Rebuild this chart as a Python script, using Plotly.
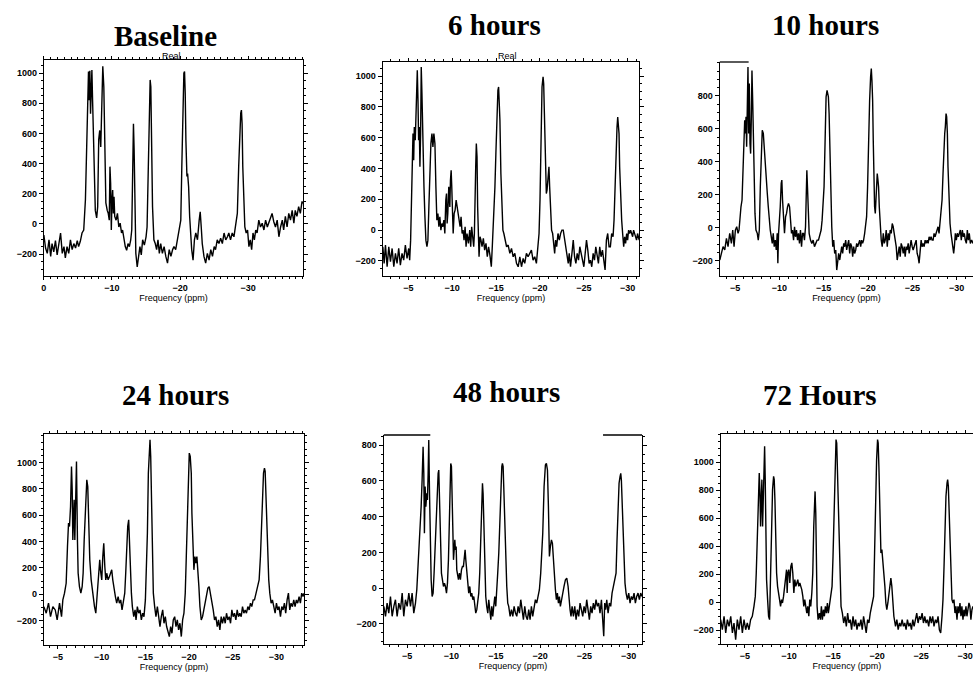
import plotly.graph_objects as go

W, H = 973, 677

titles = ["Baseline", "6 hours", "10 hours", "24 hours", "48 hours", "72 Hours"]
x_title = "Frequency (ppm)"
trace_label = "Real"

# (chemical shift magnitude in ppm, intensity); axis shows -ppm
baseline = [
(0,-73),(0.25,-160),(0.5,-195),(0.75,-105),(1.0,-215),(1.2,-130),(1.45,-185),(1.7,-110),(1.95,-205),(2.2,-140),
(2.45,-60),(2.7,-195),(2.95,-150),(3.15,-225),(3.4,-150),(3.65,-195),(3.9,-105),(4.15,-170),(4.4,-130),(4.65,-160),
(4.9,-110),(5.1,-150),(5.35,-115),(5.6,-60),(5.85,-40),(6.1,160),(6.3,600),(6.45,910),(6.55,1010),(6.65,820),
(6.75,1015),(6.85,730),(6.95,845),(7.05,1020),(7.15,820),(7.25,645),(7.4,250),(7.55,90),(7.75,40),(7.9,115),
(8.05,560),(8.2,620),(8.35,510),(8.5,760),(8.65,1045),(8.8,910),(8.95,535),(9.1,140),(9.3,90),(9.45,70),
(9.6,25),(9.7,380),(9.8,270),(9.9,-40),(10.0,160),(10.1,225),(10.2,70),(10.3,180),(10.4,50),(10.6,25),
(10.8,70),(11.0,-20),(11.2,5),(11.4,-60),(11.55,-40),(11.75,-105),(11.95,-150),(12.15,-175),(12.35,-130),(12.55,-150),
(12.75,-105),(12.9,-40),(13.0,250),(13.15,665),(13.25,490),(13.35,50),(13.5,-195),(13.7,-285),(13.9,-215),(14.1,-150),
(14.3,-205),(14.5,-105),(14.75,-140),(15.0,-85),(15.15,-20),(15.3,270),(15.45,755),(15.6,955),(15.7,910),(15.8,600),
(15.95,115),(16.15,-105),(16.35,-130),(16.55,-170),(16.75,-105),(16.95,-195),(17.15,-130),(17.4,-195),(17.65,-150),(17.9,-215),
(18.15,-260),(18.4,-170),(18.65,-215),(18.9,-170),(19.1,-150),(19.35,-170),(19.6,-105),(19.85,-60),(20.1,25),(20.25,380),
(20.4,755),(20.55,1000),(20.65,1010),(20.75,865),(20.85,555),(21.0,315),(21.1,335),(21.25,245),(21.4,50),(21.55,-105),
(21.7,-170),(21.9,-240),(22.1,-105),(22.3,-60),(22.55,-105),(22.8,25),(22.95,80),(23.1,-20),(23.25,-130),(23.5,-215),
(23.75,-260),(24.0,-195),(24.25,-240),(24.5,-170),(24.75,-215),(25.0,-150),(25.2,-170),(25.45,-105),(25.7,-130),(25.95,-95),
(26.2,-130),(26.45,-60),(26.7,-105),(26.95,-85),(27.15,-60),(27.4,-105),(27.65,-60),(27.9,-85),(28.15,-20),(28.4,70),
(28.6,380),(28.75,600),(28.9,735),(29.0,755),(29.1,665),(29.2,380),(29.35,70),(29.5,-20),(29.7,-60),(29.9,-40),
(30.1,-150),(30.3,-105),(30.5,-170),(30.7,-60),(30.9,-105),(31.1,-40),(31.3,-60),(31.55,25),(31.8,-20),(32.05,5),
(32.3,-40),(32.55,25),(32.8,-20),(33.0,5),(33.25,50),(33.5,70),(33.75,15),(34.0,-20),(34.25,25),(34.5,-85),
(34.75,-20),(35.0,25),(35.2,-40),(35.45,50),(35.7,-20),(35.95,70),(36.2,25),(36.45,90),(36.7,5),(36.9,90),
(37.15,50),(37.4,115),(37.65,70),(37.9,150),(38.0,135)]

hours6 = [
(2.09,-108),(2.24,-216),(2.39,-97),(2.58,-238),(2.77,-108),(2.96,-205),(3.15,-119),(3.34,-238),(3.53,-151),(3.71,-216),
(3.90,-119),(4.09,-227),(4.28,-151),(4.47,-195),(4.66,-97),(4.85,-184),(5.04,-119),(5.15,-195),(5.26,-65),(5.34,195),
(5.45,476),(5.53,627),(5.61,454),(5.68,670),(5.79,584),(5.91,886),(6.02,1038),(6.10,843),(6.17,584),(6.25,670),
(6.32,411),(6.40,627),(6.47,1059),(6.55,886),(6.63,627),(6.70,497),(6.78,281),(6.89,86),(7.00,-65),(7.12,-108),
(7.23,-65),(7.34,151),(7.46,454),(7.57,562),(7.69,627),(7.80,540),(7.91,627),(8.03,562),(8.14,281),(8.25,65),
(8.37,108),(8.48,22),(8.59,86),(8.71,0),(8.82,43),(8.93,22),(9.05,65),(9.16,-22),(9.27,195),(9.35,238),
(9.42,43),(9.50,108),(9.61,281),(9.73,151),(9.80,324),(9.88,389),(9.95,281),(10.03,151),(10.11,-22),(10.22,108),
(10.33,130),(10.45,195),(10.56,151),(10.67,108),(10.79,65),(10.90,22),(11.01,86),(11.13,-22),(11.24,0),(11.35,-65),
(11.47,22),(11.58,-108),(11.69,-22),(11.85,-86),(12.00,0),(12.11,-108),(12.22,22),(12.34,-86),(12.45,-108),(12.53,-22),
(12.60,108),(12.68,411),(12.75,562),(12.83,476),(12.90,151),(12.98,-130),(13.06,-173),(13.17,-43),(13.28,-65),(13.40,-108),
(13.55,-54),(13.70,-130),(13.85,-86),(14.00,-173),(14.15,-108),(14.30,-162),(14.46,-238),(14.57,-108),(14.64,-22),(14.76,108),
(14.87,281),(14.98,497),(15.10,735),(15.21,908),(15.29,930),(15.36,865),(15.44,714),(15.55,368),(15.67,130),(15.78,0),
(15.89,-22),(16.01,-65),(16.20,-108),(16.38,-97),(16.57,-151),(16.76,-119),(16.95,-173),(17.14,-151),(17.33,-216),(17.52,-238),
(17.71,-173),(17.90,-238),(18.09,-184),(18.27,-216),(18.46,-151),(18.65,-173),(18.84,-151),(19.03,-130),(19.22,-195),(19.41,-173),
(19.60,-216),(19.79,-108),(19.90,-22),(20.01,195),(20.13,584),(20.24,930),(20.36,995),(20.43,951),(20.51,757),(20.58,497),
(20.66,281),(20.73,238),(20.81,259),(20.92,346),(21.03,411),(21.11,281),(21.22,108),(21.33,0),(21.45,-22),(21.56,-108),
(21.68,-151),(21.79,-65),(21.91,-108),(22.06,-22),(22.21,-65),(22.36,-22),(22.51,0),(22.66,0),(22.81,-65),(22.97,-130),
(23.12,-195),(23.23,-216),(23.34,-151),(23.49,-238),(23.65,-151),(23.80,-65),(23.95,-173),(24.10,-216),(24.25,-151),(24.40,-195),
(24.55,-108),(24.70,-151),(24.86,-195),(25.01,-238),(25.16,-151),(25.31,-65),(25.46,-130),(25.61,-216),(25.76,-195),(25.91,-238),
(26.07,-151),(26.22,-195),(26.37,-108),(26.52,-173),(26.67,-216),(26.82,-108),(26.97,-173),(27.13,-130),(27.28,-216),(27.43,-259),
(27.58,-65),(27.73,-22),(27.88,-108),(28.03,-108),(28.18,-22),(28.34,-43),(28.45,65),(28.56,281),(28.68,541),(28.79,670),
(28.87,735),(28.94,670),(29.02,627),(29.09,411),(29.21,195),(29.32,65),(29.43,-22),(29.55,-108),(29.66,-43),(29.77,-86),
(29.89,-22),(30.00,-65),(30.11,0),(30.23,-22),(30.34,0),(30.45,-22),(30.57,-43),(30.68,0),(30.79,-22),(30.91,-43),
(31.02,-65),(31.13,-22),(31.32,-65)]

hours10 = [
(3.28,-196),(3.46,-156),(3.65,-115),(3.84,-135),(4.03,-65),(4.21,-115),(4.40,-34),(4.59,-95),(4.74,-14),(4.89,-115),
(5.04,-14),(5.19,6),(5.34,-34),(5.45,-14),(5.56,67),(5.67,127),(5.79,168),(5.90,329),(6.01,450),(6.09,652),
(6.16,572),(6.24,673),(6.31,491),(6.39,774),(6.46,976),(6.54,572),(6.61,875),(6.69,511),(6.76,450),(6.84,673),
(6.91,955),(6.99,774),(7.06,572),(7.14,248),(7.25,87),(7.36,-14),(7.51,-34),(7.62,-75),(7.74,-14),(7.85,248),
(7.96,491),(8.07,592),(8.19,572),(8.30,471),(8.41,390),(8.52,248),(8.64,208),(8.75,127),(8.86,46),(8.97,-14),
(9.09,-55),(9.20,-95),(9.31,-34),(9.42,-115),(9.54,-75),(9.65,-135),(9.76,-34),(9.83,-216),(9.91,-34),(9.98,67),
(10.10,127),(10.21,269),(10.28,289),(10.36,168),(10.47,46),(10.58,-34),(10.70,67),(10.81,87),(10.92,127),(11.03,147),
(11.15,127),(11.26,67),(11.37,-34),(11.48,-14),(11.60,-75),(11.71,6),(11.82,-55),(11.93,-14),(12.05,-75),(12.16,-34),
(12.27,-95),(12.38,-14),(12.50,-115),(12.61,-34),(12.72,-34),(12.83,-75),(12.95,6),(13.02,168),(13.10,349),(13.17,248),
(13.25,67),(13.36,-34),(13.51,-75),(13.66,-95),(13.81,-75),(13.96,-115),(14.11,-95),(14.26,-75),(14.41,-75),(14.56,-34),
(14.71,-14),(14.82,46),(14.93,127),(15.04,248),(15.16,531),(15.27,794),(15.38,834),(15.46,814),(15.53,794),(15.61,693),
(15.68,531),(15.79,208),(15.91,6),(16.02,-115),(16.13,-75),(16.24,-156),(16.36,-135),(16.47,-257),(16.58,-216),(16.69,-156),
(16.81,-196),(16.92,-135),(17.03,-115),(17.14,-156),(17.26,-95),(17.37,-115),(17.48,-75),(17.59,-135),(17.71,-95),(17.82,-75),
(17.93,-156),(18.04,-95),(18.16,-115),(18.27,-176),(18.38,-115),(18.49,-156),(18.61,-135),(18.72,-95),(18.83,-115),(18.94,-95),
(19.06,-75),(19.17,-115),(19.28,-75),(19.39,-95),(19.50,-75),(19.62,-34),(19.73,6),(19.84,67),(19.95,248),(20.07,572),
(20.18,774),(20.29,915),(20.37,966),(20.44,895),(20.52,774),(20.59,531),(20.67,248),(20.74,127),(20.82,87),(20.89,168),
(20.97,248),(21.04,329),(21.12,289),(21.19,248),(21.27,127),(21.38,-14),(21.49,-75),(21.60,-115),(21.72,-34),(21.83,-95),
(21.94,-75),(22.05,-14),(22.17,-115),(22.28,-34),(22.39,-75),(22.50,-14),(22.62,-34),(22.73,26),(22.84,6),(22.95,-34),
(23.07,-75),(23.18,-115),(23.29,-196),(23.40,-156),(23.52,-115),(23.63,-176),(23.74,-95),(23.85,-115),(23.97,-156),(24.08,-115),
(24.19,-176),(24.30,-115),(24.41,-135),(24.53,-95),(24.64,-156),(24.75,-115),(24.86,-75),(24.98,-115),(25.09,-135),(25.20,-115),
(25.31,-95),(25.43,-75),(25.54,-156),(25.65,-176),(25.76,-216),(25.88,-115),(25.99,-75),(26.10,-115),(26.21,-95),(26.33,-115),
(26.44,-75),(26.55,-95),(26.66,-75),(26.78,-95),(26.89,-55),(27.00,-75),(27.11,-55),(27.23,-75),(27.34,-75),(27.45,-34),
(27.56,-55),(27.68,-34),(27.79,-14),(27.90,6),(28.01,-34),(28.13,46),(28.24,87),(28.35,168),(28.46,329),(28.58,531),
(28.65,572),(28.72,612),(28.80,693),(28.87,673),(28.95,572),(29.02,370),(29.10,248),(29.17,127),(29.25,26),(29.36,-34),
(29.47,-75),(29.59,-115),(29.66,-156),(29.74,-115),(29.85,-34),(29.96,-75),(30.07,-34),(30.19,-55),(30.30,-34),(30.41,-14),
(30.52,-75),(30.64,-14),(30.75,-55),(30.86,-34),(30.97,-75),(31.09,-95),(31.20,-14),(31.31,-75),(31.42,-34),(31.54,-95),
(31.69,-75),(31.84,-95)]

hours24 = [
(3.40,-94),(3.67,-144),(3.93,-68),(4.16,-170),(4.43,-94),(4.70,-119),(4.92,-195),(5.19,-68),(5.42,-170),(5.57,-43),
(5.76,8),(5.95,83),(6.10,362),(6.22,539),(6.33,514),(6.45,665),(6.56,969),(6.64,792),(6.71,412),(6.79,615),
(6.86,716),(6.94,412),(7.02,868),(7.13,1007),(7.24,412),(7.32,159),(7.47,58),(7.63,8),(7.78,58),(7.89,159),
(8.01,412),(8.16,716),(8.31,868),(8.42,817),(8.54,514),(8.65,261),(8.81,109),(9.00,-18),(9.19,-94),(9.34,-144),
(9.49,8),(9.64,134),(9.79,261),(9.87,185),(10.02,109),(10.14,286),(10.25,387),(10.37,210),(10.48,109),(10.59,159),
(10.75,109),(10.90,134),(11.05,159),(11.16,185),(11.28,109),(11.43,33),(11.58,-18),(11.73,-68),(11.89,-18),(12.04,-68),
(12.19,-43),(12.34,-119),(12.50,-43),(12.65,8),(12.76,159),(12.88,412),(12.99,514),(13.10,564),(13.18,412),(13.29,159),
(13.41,8),(13.52,-94),(13.68,-170),(13.83,-119),(13.94,-195),(14.09,-94),(14.25,-144),(14.40,-119),(14.55,-195),(14.70,-144),
(14.85,-170),(15.01,-43),(15.12,159),(15.24,463),(15.35,918),(15.46,1146),(15.54,1171),(15.62,1045),(15.69,716),(15.81,286),
(15.92,8),(16.07,-94),(16.22,-170),(16.38,-94),(16.53,-195),(16.68,-245),(16.83,-170),(16.99,-119),(17.14,-220),(17.29,-170),
(17.44,-245),(17.59,-296),(17.75,-321),(17.90,-245),(18.05,-296),(18.20,-195),(18.36,-170),(18.51,-245),(18.66,-195),(18.81,-271),
(18.96,-220),(19.12,-321),(19.27,-195),(19.42,-144),(19.57,8),(19.69,286),(19.80,615),(19.92,944),(20.03,1070),(20.14,1045),
(20.26,918),(20.33,615),(20.45,311),(20.56,185),(20.68,286),(20.79,235),(20.90,286),(21.02,185),(21.13,58),(21.25,-94),
(21.40,-195),(21.55,-170),(21.70,-119),(21.86,-68),(22.01,8),(22.16,46),(22.31,58),(22.46,8),(22.62,-68),(22.77,-119),
(22.92,-195),(23.07,-170),(23.23,-245),(23.38,-195),(23.53,-271),(23.68,-170),(23.83,-220),(23.99,-170),(24.14,-220),(24.29,-144),
(24.44,-195),(24.60,-170),(24.75,-220),(24.90,-119),(25.05,-170),(25.20,-144),(25.36,-195),(25.51,-119),(25.66,-170),(25.81,-144),
(25.97,-170),(26.12,-94),(26.27,-144),(26.42,-119),(26.57,-144),(26.73,-94),(26.88,-119),(27.03,-68),(27.18,-94),(27.34,-43),
(27.49,-43),(27.64,8),(27.79,58),(28.02,109),(28.17,286),(28.29,514),(28.40,741),(28.52,918),(28.63,956),(28.71,931),
(28.78,792),(28.90,539),(29.01,286),(29.12,109),(29.24,8),(29.39,-68),(29.54,-43),(29.69,-94),(29.85,-144),(30.00,-68),
(30.15,-119),(30.30,-94),(30.46,-170),(30.61,-94),(30.76,-119),(30.91,-68),(31.06,-144),(31.22,-43),(31.37,8),(31.52,-119),
(31.67,-68),(31.83,-94),(31.98,-43),(32.13,-94),(32.28,-43),(32.43,-68),(32.59,-18),(32.74,-68),(32.89,8),(33.04,-18),
(33.16,8)]

hours48 = [
(2.37,-102),(2.56,-158),(2.74,-84),(2.93,-140),(3.12,-47),(3.31,-158),(3.50,-102),(3.68,-65),(3.87,-158),(4.06,-84),
(4.25,-121),(4.44,-28),(4.62,-158),(4.81,-65),(5.00,-102),(5.19,-28),(5.38,-102),(5.56,-28),(5.75,-140),(5.94,-84),
(6.09,-9),(6.24,121),(6.35,233),(6.47,344),(6.58,456),(6.69,605),(6.80,791),(6.88,642),(6.95,307),(7.03,568),
(7.11,456),(7.22,530),(7.29,493),(7.37,642),(7.44,829),(7.52,549),(7.59,233),(7.71,47),(7.82,-47),(7.93,-28),
(8.04,84),(8.16,233),(8.27,419),(8.38,493),(8.50,642),(8.57,661),(8.65,493),(8.76,233),(8.87,84),(8.98,47),
(9.10,9),(9.21,28),(9.32,9),(9.44,-28),(9.55,28),(9.66,158),(9.77,344),(9.85,568),(9.92,698),(10.00,680),
(10.07,568),(10.15,344),(10.23,158),(10.30,214),(10.38,270),(10.45,214),(10.53,233),(10.60,102),(10.68,84),(10.79,47),
(10.90,84),(11.01,47),(11.13,102),(11.24,121),(11.35,121),(11.47,177),(11.54,214),(11.62,158),(11.73,84),(11.84,9),
(11.95,-28),(12.07,9),(12.18,-47),(12.29,-28),(12.41,-65),(12.52,-47),(12.63,-84),(12.74,-140),(12.86,-121),(12.97,-84),
(13.08,-28),(13.19,84),(13.31,270),(13.42,493),(13.50,587),(13.57,530),(13.65,344),(13.76,84),(13.87,-47),(13.98,-102),
(14.10,-140),(14.21,-65),(14.32,-140),(14.44,-177),(14.55,-102),(14.66,-158),(14.77,-102),(14.89,-47),(15.00,-102),(15.11,-28),
(15.22,84),(15.34,196),(15.45,382),(15.56,587),(15.68,680),(15.75,698),(15.83,680),(15.90,568),(16.01,344),(16.13,121),
(16.24,9),(16.35,-84),(16.46,-102),(16.62,-158),(16.77,-121),(16.92,-158),(17.07,-102),(17.22,-140),(17.37,-158),(17.52,-102),
(17.67,-140),(17.82,-65),(17.97,-121),(18.12,-177),(18.27,-102),(18.42,-158),(18.57,-177),(18.72,-121),(18.87,-177),(19.02,-102),
(19.17,-158),(19.32,-121),(19.47,-65),(19.62,-84),(19.77,-47),(19.92,-9),(20.07,84),(20.19,177),(20.30,307),(20.45,568),
(20.60,689),(20.71,698),(20.83,661),(20.94,456),(21.05,177),(21.16,233),(21.28,270),(21.39,251),(21.50,158),(21.61,47),
(21.73,-9),(21.84,-65),(21.95,-28),(22.07,-84),(22.18,-47),(22.29,-102),(22.40,-65),(22.55,-28),(22.70,9),(22.86,47),
(23.01,56),(23.16,9),(23.27,-84),(23.38,-121),(23.49,-158),(23.61,-102),(23.76,-158),(23.91,-102),(24.06,-177),(24.21,-121),
(24.36,-158),(24.51,-84),(24.66,-121),(24.81,-158),(24.96,-102),(25.11,-140),(25.26,-65),(25.41,-121),(25.56,-177),(25.71,-102),
(25.86,-140),(26.01,-84),(26.16,-121),(26.31,-65),(26.46,-102),(26.61,-84),(26.76,-140),(26.92,-65),(27.07,-158),(27.18,-270),
(27.29,-84),(27.40,-121),(27.52,-65),(27.67,-140),(27.82,-84),(27.97,-102),(28.12,-28),(28.27,9),(28.42,47),(28.57,84),
(28.68,270),(28.79,456),(28.91,587),(29.02,624),(29.10,642),(29.17,605),(29.25,493),(29.36,307),(29.47,140),(29.58,28),
(29.70,-28),(29.85,-65),(30.00,-28),(30.15,-84),(30.30,-47),(30.45,-65),(30.60,-28),(30.75,-84),(30.90,-47),(31.05,-28),
(31.20,-65),(31.35,-28),(31.50,-47)]

hours72 = [
(2.24,-126),(2.43,-198),(2.62,-102),(2.81,-221),(3.00,-126),(3.19,-174),(3.38,-102),(3.57,-221),(3.75,-150),(3.94,-269),
(4.13,-126),(4.32,-198),(4.51,-102),(4.70,-221),(4.89,-126),(5.08,-198),(5.26,-150),(5.45,-198),(5.64,-126),(5.83,-102),
(6.02,-31),(6.17,40),(6.28,207),(6.40,445),(6.51,731),(6.62,921),(6.70,779),(6.77,540),(6.85,731),(6.92,874),
(7.00,540),(7.08,731),(7.15,1040),(7.23,1112),(7.30,874),(7.38,445),(7.45,160),(7.57,17),(7.68,-102),(7.79,-126),
(7.91,207),(8.02,540),(8.13,802),(8.25,898),(8.32,874),(8.40,731),(8.47,493),(8.59,207),(8.70,112),(8.81,64),
(8.92,-7),(9.04,-31),(9.15,17),(9.26,-7),(9.38,40),(9.49,112),(9.60,207),(9.72,231),(9.79,64),(9.87,207),
(9.98,231),(10.09,136),(10.21,255),(10.32,279),(10.43,207),(10.55,64),(10.66,160),(10.77,112),(10.89,136),(11.00,160),
(11.11,112),(11.23,136),(11.34,112),(11.45,88),(11.57,40),(11.68,-31),(11.79,17),(11.91,-55),(12.02,-79),(12.13,-31),
(12.25,-102),(12.36,17),(12.47,-31),(12.59,64),(12.70,207),(12.81,540),(12.89,755),(12.96,790),(13.04,636),(13.11,255),
(13.19,-31),(13.30,-126),(13.45,-79),(13.57,-126),(13.68,-31),(13.79,-126),(13.91,-55),(14.02,-102),(14.13,-31),(14.25,-79),
(14.36,-7),(14.47,-79),(14.59,-31),(14.70,17),(14.77,64),(14.89,112),(15.00,326),(15.11,683),(15.23,969),(15.34,1160),
(15.42,1136),(15.49,969),(15.57,683),(15.68,326),(15.79,88),(15.91,-31),(16.06,-79),(16.21,-150),(16.36,-102),(16.51,-174),
(16.66,-79),(16.81,-150),(16.96,-126),(17.11,-198),(17.27,-102),(17.42,-174),(17.57,-126),(17.72,-198),(17.87,-150),(18.02,-174),
(18.17,-126),(18.32,-198),(18.47,-102),(18.62,-174),(18.77,-221),(18.93,-126),(19.08,-150),(19.23,-79),(19.38,-31),(19.49,17),
(19.61,40),(19.72,350),(19.83,731),(19.95,1017),(20.06,1160),(20.13,1136),(20.21,969),(20.28,683),(20.36,445),(20.44,350),
(20.55,374),(20.66,302),(20.78,207),(20.89,112),(21.00,-7),(21.11,-55),(21.23,-7),(21.34,64),(21.45,136),(21.57,171),
(21.68,112),(21.79,-31),(21.91,-102),(22.10,-174),(22.25,-126),(22.40,-198),(22.55,-150),(22.70,-174),(22.85,-126),(23.00,-174),
(23.15,-150),(23.30,-198),(23.45,-126),(23.61,-174),(23.76,-150),(23.91,-198),(24.06,-126),(24.21,-174),(24.36,-126),(24.51,-79),
(24.66,-150),(24.81,-102),(24.96,-126),(25.12,-79),(25.27,-150),(25.42,-102),(25.57,-150),(25.72,-126),(25.87,-174),(26.02,-102),
(26.17,-150),(26.32,-102),(26.47,-174),(26.63,-126),(26.78,-150),(26.93,-102),(27.08,-198),(27.23,-221),(27.38,-102),(27.49,17),
(27.61,255),(27.72,540),(27.83,755),(27.95,850),(28.02,874),(28.10,826),(28.17,683),(28.29,398),(28.40,160),(28.51,17),
(28.63,-7),(28.74,17),(28.85,-79),(28.96,-31),(29.08,-126),(29.19,-31),(29.30,-79),(29.42,-7),(29.53,-102),(29.64,-31),
(29.76,-126),(29.87,-55),(29.98,-102),(30.10,-31),(30.21,-102),(30.32,-55),(30.44,-7),(30.55,-31),(30.66,-126),(30.78,-55),
(30.89,-31)]

spectra = [baseline, hours6, hours10, hours24, hours48, hours72]

yt_1000 = [-200, 0, 200, 400, 600, 800, 1000]
yt_800 = [-200, 0, 200, 400, 600, 800]
xt_10 = [0, -10, -20, -30]
xt_5 = [-5, -10, -15, -20, -25, -30]

# layout per panel: x range, y range, ticks, frame position (page pixels)
panels = [
    dict(xr=[0, -38.05], yr=[-345, 1087], xt=xt_10, yt=yt_1000, px=(41, 301), py=(60, 276), topfull=True, right=True),
    dict(xr=[-2.09, -31.3], yr=[-298, 1092], xt=xt_5, yt=yt_1000, px=(381, 638), py=(62, 276), topfull=True, right=True),
    dict(xr=[-3.28, -31.84], yr=[-293, 1006], xt=xt_5, yt=yt_800, px=(719, 973), py=(62, 276), topfull=False, right=False),
    dict(xr=[-3.40, -33.16], yr=[-385, 1215], xt=xt_5, yt=yt_1000, px=(41, 302), py=(434, 645), topfull=True, right=True),
    dict(xr=[-2.37, -31.5], yr=[-313, 857], xt=xt_5, yt=yt_800, px=(382, 641), py=(435, 644), topfull=False, right=True),
    dict(xr=[-2.25, -30.9], yr=[-300, 1200], xt=xt_5, yt=yt_1000, px=(720, 973), py=(434, 644), topfull=True, right=False),
]

title_pos = [(163, 36), (493, 25), (825, 25), (173, 395), (505, 392), (820, 395)]
label_pos = [(169, 56), (506, 56)]

fig = go.Figure()
tickfont = dict(family="Liberation Sans", size=9, color="black", weight="bold")
layout = {}
shapes = []
for i, (spec, p) in enumerate(zip(spectra, panels), start=1):
    xs = [-s for s, v in spec]
    ys = [v for s, v in spec]
    sx = "" if i == 1 else str(i)
    fig.add_trace(go.Scatter(x=xs, y=ys, mode="lines", line=dict(color="black", width=1.4),
                             xaxis="x" + sx, yaxis="y" + sx, showlegend=False, hoverinfo="skip"))
    xd = [p["px"][0] / W, min(p["px"][1] / W, 1.0)]
    yd = [1 - p["py"][1] / H, 1 - p["py"][0] / H]
    layout["xaxis" + sx] = dict(
        domain=xd, range=p["xr"], anchor="y" + sx, tickmode="array", tickvals=p["xt"],
        showline=True, linecolor="black", linewidth=1.3, mirror="ticks" if p["topfull"] else False,
        ticks="outside", ticklen=3, tickwidth=1, tickcolor="black", showgrid=False, zeroline=False,
        tickfont=tickfont,
        minor=dict(tickmode="linear", tick0=0, dtick=1, ticks="outside", ticklen=2, tickcolor="black", showgrid=False),
        title=dict(text=x_title, font=dict(family="Liberation Sans", size=9, color="black"), standoff=1),
    )
    layout["yaxis" + sx] = dict(
        domain=yd, range=p["yr"], anchor="x" + sx, tickmode="array", tickvals=p["yt"],
        showline=True, linecolor="black", linewidth=1.3, mirror="ticks" if p["right"] else False,
        ticks="outside", ticklen=4, tickwidth=1, tickcolor="black", showgrid=False, zeroline=False,
        tickfont=tickfont,
        minor=dict(tickmode="linear", tick0=0, dtick=50, ticks="outside", ticklen=2, tickcolor="black", showgrid=False),
    )

# partial (faded in the scan) top frame lines
shapes.append(dict(type="line", xref="x3 domain", yref="y3 domain", x0=0, x1=0.114, y0=1, y1=1,
                   line=dict(color="black", width=1.3)))
shapes.append(dict(type="line", xref="x5 domain", yref="y5 domain", x0=0, x1=0.18, y0=1, y1=1,
                   line=dict(color="black", width=1.3)))
shapes.append(dict(type="line", xref="x5 domain", yref="y5 domain", x0=0.849, x1=1, y0=1, y1=1,
                   line=dict(color="black", width=1.3)))

annotations = []
for t, (tx, ty) in zip(titles, title_pos):
    annotations.append(dict(text="<b>" + t + "</b>", x=tx / W, y=1 - ty / H, xref="paper", yref="paper",
                            xanchor="center", yanchor="middle", showarrow=False,
                            font=dict(family="Liberation Serif", size=29, color="black")))
for (lx, ly) in label_pos:
    annotations.append(dict(text=trace_label, x=lx / W, y=1 - ly / H, xref="paper", yref="paper",
                            xanchor="center", yanchor="middle", showarrow=False,
                            font=dict(family="Liberation Sans", size=9, color="black")))

fig.update_layout(width=W, height=H, margin=dict(l=0, r=0, t=0, b=0),
                  paper_bgcolor="white", plot_bgcolor="white",
                  shapes=shapes, annotations=annotations, **layout)
fig.write_html("out.html", config={"displayModeBar": False},
               post_script="document.body.style.margin='0px';document.body.style.overflow='hidden';")
